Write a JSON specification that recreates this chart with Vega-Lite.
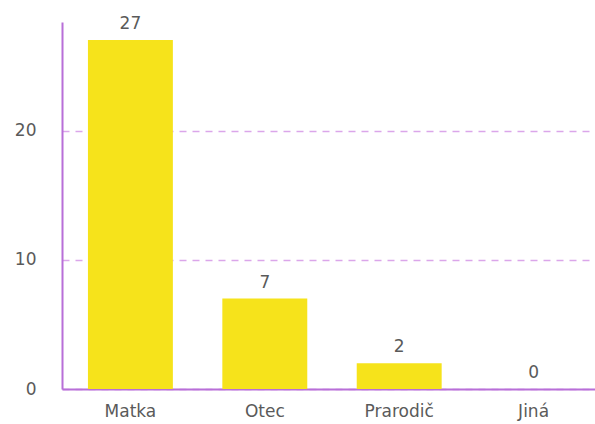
{
  "$schema": "https://vega.github.io/schema/vega-lite/v6.json",
  "width": 540,
  "height": 367,
  "autosize": {"type": "none"},
  "padding": {"left": 62, "top": 22, "right": 0, "bottom": 35},
  "background": "white",
  "config": {
    "view": {"stroke": null},
    "font": "DejaVu Sans"
  },
  "data": {
    "values": [
      {"kategorie": "Matka", "pocet": 27},
      {"kategorie": "Otec", "pocet": 7},
      {"kategorie": "Prarodič", "pocet": 2},
      {"kategorie": "Jiná", "pocet": 0}
    ]
  },
  "encoding": {
    "x": {
      "field": "kategorie",
      "type": "nominal",
      "sort": null,
      "scale": {"paddingInner": 0.368, "paddingOuter": 0.193},
      "axis": {
        "title": null,
        "labelAngle": 0,
        "labelFont": "DejaVu Sans",
        "labelFontSize": 17,
        "labelColor": "#5a5a5a",
        "labelPadding": 14,
        "ticks": false,
        "domainColor": "#b86fd8",
        "domainWidth": 2,
        "grid": false
      }
    },
    "y": {
      "field": "pocet",
      "type": "quantitative",
      "scale": {"domain": [0, 28.4], "nice": false},
      "axis": {
        "title": null,
        "values": [0, 10, 20],
        "labelFont": "DejaVu Sans",
        "labelFontSize": 17,
        "labelColor": "#5a5a5a",
        "labelPadding": 26,
        "ticks": false,
        "domainColor": "#b86fd8",
        "domainWidth": 2,
        "grid": true,
        "gridColor": "#dba6ea",
        "gridDash": [7, 6],
        "gridWidth": 1.3
      }
    }
  },
  "layer": [
    {"mark": {"type": "bar", "color": "#f6e31b"}},
    {
      "mark": {"type": "text", "baseline": "bottom", "dy": -7, "fontSize": 17, "color": "#5a5a5a", "font": "DejaVu Sans"},
      "encoding": {"text": {"field": "pocet", "type": "quantitative"}}
    }
  ]
}
